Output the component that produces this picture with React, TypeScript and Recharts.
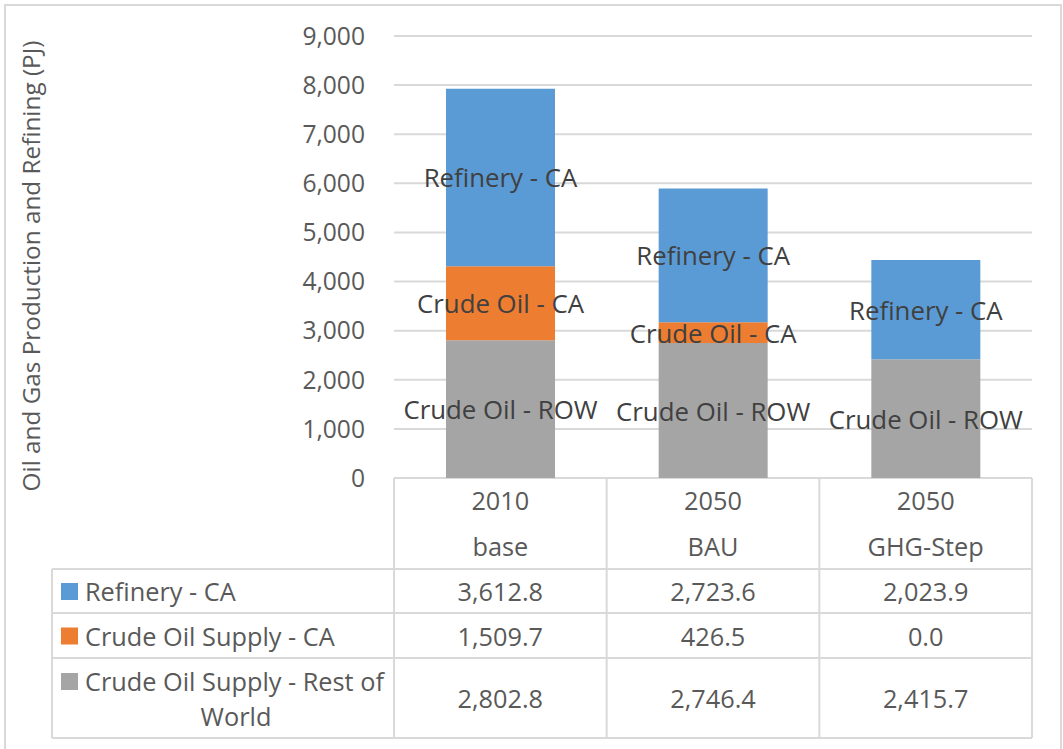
import { BarChart, Bar, XAxis, YAxis, CartesianGrid, LabelList } from 'recharts'

const categories = ['2010 base', '2050 BAU', '2050 GHG-Step']
const categoryLines = [['2010', 'base'], ['2050', 'BAU'], ['2050', 'GHG-Step']]
const refineryCA = [3612.8, 2723.6, 2023.9]
const crudeSupplyCA = [1509.7, 426.5, 0.0]
const crudeSupplyROW = [2802.8, 2746.4, 2415.7]
const yTicks = [0, 1000, 2000, 3000, 4000, 5000, 6000, 7000, 8000, 9000]

const BLUE = '#5b9bd5'
const ORANGE = '#ed7d31'
const GRAY = '#a5a5a5'
const LINE = '#d9d9d9'
const TEXT = '#595959'
const FONT = '"Open Sans", sans-serif'

const W = 1063
const H = 749
const plotLeft = 394
const plotRight = 1032
const plotTop = 36
const plotBottom = 478
const catW = (plotRight - plotLeft) / categories.length

const data = categories.map((c, i) => ({
  name: c,
  row: crudeSupplyROW[i],
  ca: crudeSupplyCA[i],
  refinery: refineryCA[i],
}))

const fmtTick = (v: number) => v.toLocaleString('en-US')
const fmtVal = (v: number) =>
  v.toLocaleString('en-US', { minimumFractionDigits: 1, maximumFractionDigits: 1 })

const segLabel = (text: string) => (props: any) => {
  const { x, y, width, height, value } = props
  if (!value) return null
  return (
    <text
      x={Number(x) + Number(width) / 2}
      y={Number(y) + Number(height) / 2}
      textAnchor="middle"
      dominantBaseline="central"
      fontSize={25.8}
      fill="#404040"
      fontFamily={FONT}
    >
      {text}
    </text>
  )
}

// data table under the plot, aligned to the category bands
function DataTable() {
  const rowTops = [569, 613, 658, 738]
  const legendLeft = 52
  const rows = [
    { color: BLUE, label: ['Refinery - CA'], values: refineryCA },
    { color: ORANGE, label: ['Crude Oil Supply - CA'], values: crudeSupplyCA },
    { color: GRAY, label: ['Crude Oil Supply - Rest of', 'World'], values: crudeSupplyROW },
  ]
  const colX = [0, 1, 2, 3].map((i) => plotLeft + i * catW)
  return (
    <g fontFamily={FONT} fill={TEXT} fontSize={25.3}>
      {colX.map((x, i) => (
        <line key={'v' + i} x1={x} x2={x} y1={plotBottom} y2={rowTops[3]} stroke={LINE} strokeWidth={2} />
      ))}
      <line x1={legendLeft} x2={legendLeft} y1={rowTops[0]} y2={rowTops[3]} stroke={LINE} strokeWidth={2} />
      {rowTops.map((y, i) => (
        <line key={'h' + i} x1={legendLeft} x2={plotRight} y1={y} y2={y} stroke={LINE} strokeWidth={2} />
      ))}
      {categoryLines.map((lines, i) => (
        <g key={'c' + i}>
          <text x={plotLeft + (i + 0.5) * catW} y={500} textAnchor="middle" dominantBaseline="central">{lines[0]}</text>
          <text x={plotLeft + (i + 0.5) * catW} y={546} textAnchor="middle" dominantBaseline="central">{lines[1]}</text>
        </g>
      ))}
      {rows.map((r, ri) => {
        const top = rowTops[ri]
        const bottom = rowTops[ri + 1]
        const mid = (top + bottom) / 2
        const firstY = r.label.length > 1 ? top + 23 : mid
        return (
          <g key={'r' + ri}>
            <rect x={61} y={firstY - 8} width={17} height={17} fill={r.color} />
            <text x={85} y={firstY} dominantBaseline="central">{r.label[0]}</text>
            {r.label[1] && (
              <text x={236} y={firstY + 35} textAnchor="middle" dominantBaseline="central">{r.label[1]}</text>
            )}
            {r.values.map((v, ci) => (
              <text key={ci} x={plotLeft + (ci + 0.5) * catW} y={mid} textAnchor="middle" dominantBaseline="central">
                {fmtVal(v)}
              </text>
            ))}
          </g>
        )
      })}
    </g>
  )
}

export default function App() {
  return (
    <div style={{ position: 'absolute', left: 0, top: 0, width: W, height: H, background: '#fff', fontFamily: FONT }}>
      <BarChart
        width={W}
        height={H}
        data={data}
        margin={{ top: plotTop, right: W - plotRight, bottom: H - plotBottom, left: plotLeft - 80 }}
      >
        <CartesianGrid vertical={false} stroke={LINE} strokeWidth={2} />
        <XAxis dataKey="name" hide />
        <YAxis
          width={80}
          domain={[0, 9000]}
          ticks={yTicks}
          tickFormatter={fmtTick}
          axisLine={false}
          tickLine={false}
          tickSize={0}
          tickMargin={29}
          tick={{ fontSize: 24.6, fill: TEXT }}
        />
        <Bar dataKey="row" stackId="a" fill={GRAY} barSize={109} isAnimationActive={false}>
          <LabelList dataKey="row" content={segLabel('Crude Oil - ROW')} />
        </Bar>
        <Bar dataKey="ca" stackId="a" fill={ORANGE} barSize={109} isAnimationActive={false}>
          <LabelList dataKey="ca" content={segLabel('Crude Oil - CA')} />
        </Bar>
        <Bar dataKey="refinery" stackId="a" fill={BLUE} barSize={109} isAnimationActive={false}>
          <LabelList dataKey="refinery" content={segLabel('Refinery - CA')} />
        </Bar>
      </BarChart>
      <svg width={W} height={H} style={{ position: 'absolute', left: 0, top: 0, pointerEvents: 'none' }}>
        <rect x={5} y={5} width={1056} height={760} fill="none" stroke={LINE} strokeWidth={2} />
        <text
          transform="translate(30, 266) rotate(-90)"
          textAnchor="middle"
          dominantBaseline="central"
          fontSize={24.3}
          fill={TEXT}
          fontFamily={FONT}
        >
          Oil and Gas Production and Refining (PJ)
        </text>
        <DataTable />
      </svg>
    </div>
  )
}
